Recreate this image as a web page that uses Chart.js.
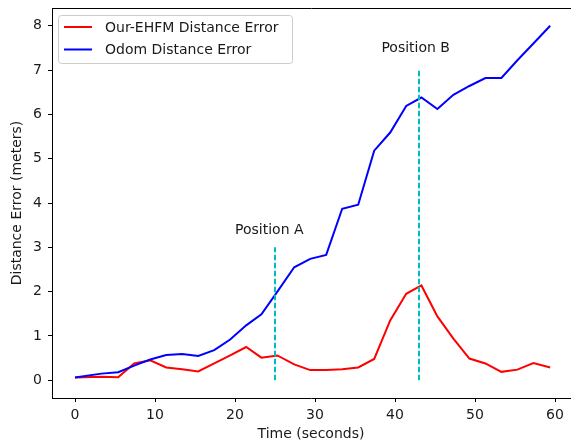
<!DOCTYPE html>
<html>
<head>
<meta charset="utf-8">
<script src="https://cdn.jsdelivr.net/npm/chart.js@4.4.1/dist/chart.umd.min.js"></script>
<style>
  html, body { margin: 0; padding: 0; background: #fff; overflow: hidden; }
  #wrap { width: 571px; height: 443px; }
</style>
</head>
<body>
<div id="wrap"><canvas id="chart" width="571" height="443"></canvas></div>
<script>
// Distance error over time: Our-EHFM vs Odom

const timeSec = [0, 3.3, 5.4, 7.4, 9.4, 11.4, 13.4, 15.4, 17.4, 19.4, 21.4, 23.3, 25.3, 27.4, 29.4,
    31.4, 33.4, 35.4, 37.4, 39.4, 41.4, 43.3, 45.3, 47.3, 49.3, 51.3, 53.3, 55.3, 57.3, 59.4];
const ourEhfmError = [0.06, 0.08, 0.07, 0.38, 0.45, 0.29, 0.25, 0.20, 0.38, 0.56, 0.75, 0.51, 0.56, 0.36, 0.23,
    0.23, 0.25, 0.29, 0.48, 1.35, 1.95, 2.14, 1.44, 0.94, 0.49, 0.38, 0.19, 0.24, 0.39, 0.29];
const odomError = [0.06, 0.15, 0.18, 0.33, 0.47, 0.57, 0.59, 0.55, 0.68, 0.92, 1.24, 1.49, 2.00, 2.55, 2.74,
    2.83, 3.87, 3.96, 5.18, 5.59, 6.19, 6.38, 6.12, 6.44, 6.64, 6.82, 6.82, 7.22, 7.60, 8.00];

// marker positions (time, top of dashed line) and their labels
const markerNames = ['Position A', 'Position B'];
const markerTime = [25, 43];
const markerTop = [3, 7];
const markerLabelX = [20, 38.3];
const markerLabelY = [3.3, 7.4];

const xTicks = [0, 10, 20, 30, 40, 50, 60];
const yTicks = [0, 1, 2, 3, 4, 5, 6, 7, 8];

const FONT = { family: "'DejaVu Sans', sans-serif", size: 14 };
const TEXT = '#1a1a1a';

const toPoints = (xs, ys) => xs.map((x, i) => ({ x: x, y: ys[i] }));

const markerSets = markerTime.map((t, i) => ({
    data: [{ x: t, y: 0 }, { x: t, y: markerTop[i] }],
    borderColor: '#00bfbf',
    borderWidth: 2,
    borderDash: [5.5, 2.5],
    pointRadius: 0,
    order: 1
}));

// annotations + legend box
const extras = {
    id: 'extras',
    afterDraw(chart) {
        const { ctx, scales } = chart;
        ctx.save();
        ctx.setLineDash([]);
        ctx.font = `${FONT.size}px ${FONT.family}`;
        ctx.fillStyle = TEXT;
        ctx.textAlign = 'left';
        ctx.textBaseline = 'alphabetic';
        markerNames.forEach((name, i) => {
            ctx.fillText(name, scales.x.getPixelForValue(markerLabelX[i]),
                scales.y.getPixelForValue(markerLabelY[i]));
        });

        // legend
        const items = chart.data.datasets.filter(d => d.label);
        const bx = 58.5, by = 15.5, bw = 234, bh = 48;
        ctx.fillStyle = 'rgba(255,255,255,0.8)';
        ctx.strokeStyle = '#cccccc';
        ctx.lineWidth = 1;
        ctx.beginPath();
        ctx.roundRect(bx, by, bw, bh, 3);
        ctx.fill();
        ctx.stroke();
        items.forEach((d, i) => {
            const y = 27 + i * 22.5;
            ctx.strokeStyle = d.borderColor;
            ctx.lineWidth = 2;
            ctx.beginPath();
            ctx.moveTo(64, y);
            ctx.lineTo(92, y);
            ctx.stroke();
            ctx.fillStyle = TEXT;
            ctx.textBaseline = 'middle';
            ctx.fillText(d.label, 105, y + 1);
        });
        ctx.restore();
    }
};

new Chart(document.getElementById('chart'), {
    type: 'line',
    data: {
        datasets: [
            ...markerSets,
            {
                label: 'Our-EHFM Distance Error',
                data: toPoints(timeSec, ourEhfmError),
                borderColor: '#ff0000',
                borderWidth: 2,
                pointRadius: 0,
                order: 3
            },
            {
                label: 'Odom Distance Error',
                data: toPoints(timeSec, odomError),
                borderColor: '#0000ff',
                borderWidth: 2,
                pointRadius: 0,
                order: 2
            }
        ]
    },
    options: {
        responsive: false,
        animation: false,
        layout: { padding: { top: 8, right: 1, left: 0, bottom: 0 } },
        plugins: { legend: { display: false }, tooltip: { enabled: false } },
        scales: {
            x: {
                type: 'linear',
                min: -2.875,
                max: 61.875,
                afterFit: s => { s.height = 45; s.paddingLeft = 0; s.paddingRight = 0; },
                afterBuildTicks: s => { s.ticks = xTicks.map(v => ({ value: v })); },
                grid: { drawOnChartArea: false, drawTicks: true, tickLength: 4, color: '#000' },
                border: { display: true, color: '#000', width: 1 },
                ticks: { color: TEXT, font: FONT, padding: 5, maxRotation: 0 },
                title: { display: true, text: 'Time (seconds)', color: TEXT, font: FONT, padding: { top: 0, bottom: 0 } }
            },
            xTop: {
                type: 'linear',
                position: 'top',
                min: -2.875,
                max: 61.875,
                afterFit: s => { s.height = 0; s.paddingLeft = 0; s.paddingRight = 0; },
                grid: { display: false },
                border: { display: true, color: '#000', width: 1 },
                ticks: { display: false }
            },
            y: {
                type: 'linear',
                min: -0.4,
                max: 8.4,
                afterFit: s => { s.width = 52; s.paddingTop = 0; s.paddingBottom = 0; },
                afterBuildTicks: s => { s.ticks = yTicks.map(v => ({ value: v })); },
                grid: { drawOnChartArea: false, drawTicks: true, tickLength: 4, color: '#000' },
                border: { display: true, color: '#000', width: 1 },
                ticks: { color: TEXT, font: FONT, padding: 6 },
                title: { display: true, text: 'Distance Error (meters)', color: TEXT, font: FONT, padding: { top: 9, bottom: 0 } }
            }
        }
    },
    plugins: [extras]
});
</script>
</body>
</html>
